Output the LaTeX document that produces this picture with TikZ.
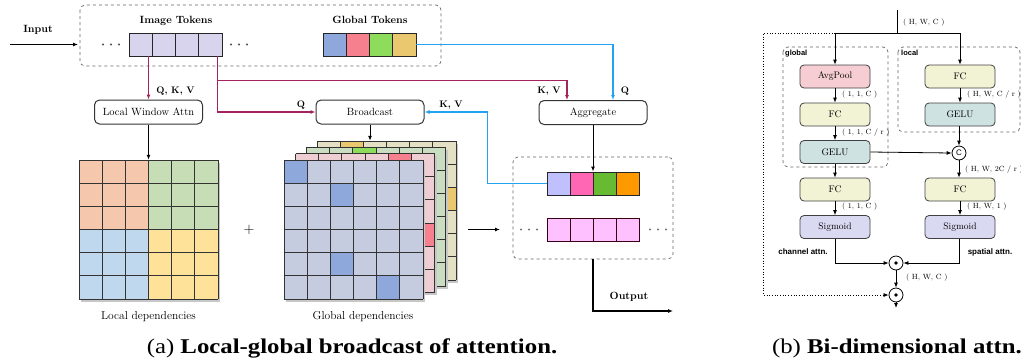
\documentclass[tikz,border=0pt]{standalone}
\usepackage{fontspec}
\newfontfamily\capfont[FakeStretch=1.18]{Liberation Serif}
\newfontfamily\labsans{Liberation Sans}
\usetikzlibrary{arrows.meta,calc}

\definecolor{mag}{HTML}{A3235F}
\definecolor{sky}{HTML}{26A2F2}
\definecolor{imgtok}{HTML}{D8D4EE}
\definecolor{gblue}{HTML}{8FA8DC}
\definecolor{gpink}{HTML}{F7808F}
\definecolor{ggreen}{HTML}{8EDC5C}
\definecolor{gyellow}{HTML}{EAC870}
\definecolor{oviolet}{HTML}{C0C0FF}
\definecolor{opink}{HTML}{FF66B3}
\definecolor{ogreen}{HTML}{66BB33}
\definecolor{oorange}{HTML}{FF9900}
\definecolor{olilac}{HTML}{FFC0FF}
\definecolor{lorange}{HTML}{F5C8AE}
\definecolor{lgreen}{HTML}{C6DDB5}
\definecolor{lblue}{HTML}{BFD8EE}
\definecolor{lyellow}{HTML}{FFE29A}
\definecolor{dfront}{HTML}{C6CCE0}
\definecolor{dpink}{HTML}{EFCED3}
\definecolor{dgreen}{HTML}{CADDC1}
\definecolor{dtan}{HTML}{E4E0C3}
\definecolor{bpink}{HTML}{F5CDD2}
\definecolor{bfc}{HTML}{F2F2D5}
\definecolor{bgelu}{HTML}{CFE2E2}
\definecolor{bsig}{HTML}{D9D9F2}

% one 6x6 dependency layer: x0, y0, base colour, highlighted row/col pairs, highlight colour
\newcommand\deplayer[5]{%
  \fill[black!22] (#1+2,#2+2.5) rectangle ++(139,139);
  \fill[#3] (#1,#2) rectangle ++(139,139);
  \foreach \r/\c in {#4} {\fill[#5] (#1+\c*23.1667,#2+\r*23.1667) rectangle ++(23.1667,23.1667);}
  \foreach \i in {0,...,6} {
    \draw[gridln] (#1+\i*23.1667,#2) -- ++(0,139);
    \draw[gridln] (#1,#2+\i*23.1667) -- ++(139,0);
  }
}

\begin{document}
\begin{tikzpicture}[x=1pt,y=-1pt,
  >={Latex[length=5pt,width=4pt]},
  gridln/.style={draw=black!80,line width=0.9pt},
  tok/.style={draw=black!85,line width=0.9pt,minimum width=23.25pt,minimum height=23pt,inner sep=0pt},
  opbox/.style={draw=black!80,line width=1pt,rounded corners=5pt,fill=white,minimum width=108pt,minimum height=24pt,inner sep=0pt,font=\fontsize{10.5}{12}\selectfont},
  bbox/.style={draw=black!75,line width=0.8pt,rounded corners=4pt,minimum width=70pt,minimum height=23pt,inner sep=0pt,font=\fontsize{9.5}{11}\selectfont},
  mg/.style={draw=mag,line width=1.2pt},
  sk/.style={draw=sky,line width=1.2pt},
  blk/.style={draw=black,line width=1pt},
  lbl/.style={font=\bfseries\fontsize{9.5}{11}\selectfont,inner sep=0pt},
  ttl/.style={font=\bfseries\fontsize{10.5}{12}\selectfont,inner sep=0pt},
  dim/.style={font=\fontsize{7.5}{9}\selectfont,inner sep=0pt,anchor=west},
  grp/.style={draw=black!60,dashed,rounded corners=5pt,line width=0.7pt},
  sans/.style={font=\labsans\bfseries\fontsize{7.5}{9}\selectfont,inner sep=0pt},
  opc/.style={circle,draw=black,line width=0.8pt,fill=white,minimum size=14pt,inner sep=0pt}
]
\useasboundingbox (0,0) rectangle (1021,360);

% ---------------- (a) token groups ----------------
\draw[grp] (80,5) rectangle (441,66);
\node[ttl] (imgtitle) at (176,21) {Image Tokens};
\node[ttl] (gtitle) at (370,20) {Global Tokens};
\foreach \k in {1,...,4} {
  \node[tok,fill=imgtok] (t\k) at (129+11.625+\k*23.25-23.25,44.5) {};
}
\node[tok,fill=gblue]   (g1) at (334.6,44.5) {};
\node[tok,fill=gpink]   (g2) at (357.9,44.5) {};
\node[tok,fill=ggreen]  (g3) at (381.1,44.5) {};
\node[tok,fill=gyellow] (g4) at (404.4,44.5) {};
\foreach \x in {103,111,119,231,239,247} \fill[black!70] (\x,44.5) circle[radius=1.1];

\coordinate (inL) at (10,44.5);
\node[ttl] (inlbl) at (38,30) {Input};
\draw[blk,->] (inL) -- (78,44.5);

% ---------------- (a) operation boxes ----------------
\node[opbox] (lwa) at (148.5,112) {Local Window Attn};
\node[opbox] (bc)  at (370,112) {Broadcast};
\node[opbox] (agg) at (593,112.5) {Aggregate};

% magenta: image tokens
\draw[mg,->] (t1.south -| lwa.north) -- (lwa.north);
\draw[mg,->] ([xshift=7.5pt]t4.south) |- (bc.west);
\draw[mg,->] ([xshift=7.5pt]t4.south) -- ++(0,24) -| ([xshift=-26pt]agg.north);
\node[lbl] at (175.5,91) {Q, K, V};
\node[lbl] at (301,105) {Q};
\node[lbl] at (549,91) {K, V};

% blue: global tokens
\draw[sk,->] (g4.east) -| ([xshift=20pt]agg.north);
\node[lbl] at (625,91) {Q};

% ---------------- (a) local grid ----------------
\node[minimum size=139pt,inner sep=0pt] (lgrid) at (148.5,229.5) {};
\fill[black!22] (81,162.5) rectangle ++(139,139);
\fill[lorange] (79,160) rectangle ++(69.5,69.5);
\fill[lgreen]  (148.5,160) rectangle ++(69.5,69.5);
\fill[lblue]   (79,229.5) rectangle ++(69.5,69.5);
\fill[lyellow] (148.5,229.5) rectangle ++(69.5,69.5);
\foreach \i in {0,...,6} {
  \draw[gridln] (79+\i*23.1667,160) -- ++(0,139);
  \draw[gridln] (79,160+\i*23.1667) -- ++(139,0);
}
\draw[blk,->] (lwa.south) -- (lgrid.north);
\node[font=\fontsize{14}{14}\selectfont] (plus) at (249,230) {$+$};
\node[font=\fontsize{11.5}{13}\selectfont] (ldep) at (148.5,317) {Local dependencies};

% ---------------- (a) global dependency stack ----------------
\deplayer{317}{141}{dtan}{0/1,2/5}{gyellow}
\deplayer{306.5}{147}{dgreen}{0/2}{ggreen}
\deplayer{295.5}{153.5}{dpink}{0/4,3/5}{gpink}
\deplayer{284}{160}{dfront}{0/0,1/2,4/2,5/4}{gblue}
\node[minimum size=139pt,inner sep=0pt] (gback) at (386.5,210.5) {};
\draw[blk,->] (bc.south) -- (bc.south |- gback.north);
\node[font=\fontsize{11.5}{13}\selectfont] (gdep) at (363,317) {Global dependencies};

% ---------------- (a) output group ----------------
\node[grp,minimum width=160pt,minimum height=102pt,inner sep=0pt] (outbox) at (593,208) {};
\node[tok,minimum width=23pt,fill=oviolet] (o1) at (558.5,183.5) {};
\node[tok,minimum width=23pt,fill=opink]   (o2) at (581.5,183.5) {};
\node[tok,minimum width=23pt,fill=ogreen]  (o3) at (604.5,183.5) {};
\node[tok,minimum width=23pt,fill=oorange] (o4) at (627.5,183.5) {};
\foreach \k/\x in {1/558.5,2/581.5,3/604.5,4/627.5}
  \node[tok,minimum width=23pt,fill=olilac,draw=black!70!purple] (p\k) at (\x,229.5) {};
\foreach \x in {521,529,537,650,658,666} \fill[black!55] (\x,229.5) circle[radius=1.1];

\draw[blk,->] (agg.south) -- (agg.south |- o1.north);
\draw[sk,->] (o1.west) -- ++(-59,0) |- (bc.east);
\node[lbl] at (451,105) {K, V};

\coordinate (sa) at (468,229.5);
\coordinate (sb) at (500,229.5);
\draw[blk,->] (sa) -- (sb);

\coordinate (outend) at (673,311);
\draw[draw=black,line width=1.2pt,->] (outbox.south) |- (outend);
\node[ttl] at (629,297) {Output};

% ---------------- (b) bi-dimensional attention ----------------
\draw[grp] (783,47) rectangle (888,167);
\draw[grp] (898,47) rectangle (1020,132);
\node[sans,anchor=north west] at (785,50) {global};
\node[sans,anchor=north west] at (901,50) {local};

\node[bbox,fill=bpink] (avg)  at (835,76.5) {AvgPool};
\node[bbox,fill=bfc]   (fcg)  at (835,114.5) {FC};
\node[bbox,fill=bgelu] (gelg) at (835,152) {GELU};
\node[bbox,fill=bfc]   (fcl)  at (960,76.5) {FC};
\node[bbox,fill=bgelu] (gell) at (960,114.5) {GELU};
\node[opc,font=\labsans\fontsize{8}{8}\selectfont] (cat) at (959,153) {C};
\node[bbox,fill=bfc]   (fcg2) at (835,189.5) {FC};
\node[bbox,fill=bfc]   (fcl2) at (960,189.5) {FC};
\node[bbox,fill=bsig]  (sigg) at (835,227) {Sigmoid};
\node[bbox,fill=bsig]  (sigl) at (960,227) {Sigmoid};
\node[opc,minimum size=14pt] (m1) at (896,263) {};
\node[opc,minimum size=14pt] (m2) at (896,295) {};
\fill (m1.center) circle[radius=1.8];
\fill (m2.center) circle[radius=1.8];

\coordinate (bin) at (897,10);
\coordinate (split) at (897,33);
\coordinate (skip) at (763,33);
\coordinate (bout) at (896,308);
\draw[blk,line width=0.8pt] (bin) -- (split);
\draw[blk,line width=0.8pt,->] (split) -| (avg.north);
\draw[blk,line width=0.8pt,->] (split) -| (fcl.north);
\draw[black,line width=0.7pt,dotted,->] (avg.north |- split) -- (skip) |- (m2.west);

\draw[blk,line width=0.8pt,->] (avg.south) -- (fcg.north);
\draw[blk,line width=0.8pt,->] (fcg.south) -- (gelg.north);
\draw[blk,line width=0.8pt,->] (fcl.south) -- (gell.north);
\draw[blk,line width=0.8pt,->] (gelg.east) -- (cat.west);
\draw[blk,line width=0.8pt,->] (gell.south -| cat.north) -- (cat.north);
\draw[blk,line width=0.8pt,->] (cat.south) -- (cat.south |- fcl2.north);
\draw[blk,line width=0.8pt,->] (gelg.south) -- (fcg2.north);
\draw[blk,line width=0.8pt,->] (fcg2.south) -- (sigg.north);
\draw[blk,line width=0.8pt,->] (fcl2.south) -- (sigl.north);
\draw[blk,line width=0.8pt,->] (sigg.south) |- (m1.west);
\draw[blk,line width=0.8pt,->] (sigl.south -| cat.south) |- (m1.east);
\draw[blk,line width=0.8pt,->] (m1.south) -- (m2.north);
\draw[blk,line width=0.8pt,->] (m2.south) -- (bout);

\node[dim] at (903,23) {( H, W, C )};
\node[dim] at (842,95) {( 1, 1, C )};
\node[dim] at (967,95) {( H, W, C / r )};
\node[dim] at (842,133) {( 1, 1, C / r )};
\node[dim] at (965,170) {( H, W, 2C / r )};
\node[dim] at (842,207) {( 1, 1, C )};
\node[dim] at (967,207) {( H, W, 1 )};
\node[dim] at (906,278) {( H, W, C )};
\node[sans,font=\labsans\bfseries\fontsize{8}{9}\selectfont] at (803,252) {channel attn.};
\node[sans,font=\labsans\bfseries\fontsize{8}{9}\selectfont] at (990,252) {spatial attn.};

% ---------------- captions ----------------
\node[anchor=base,inner sep=0pt,font=\capfont\fontsize{21}{24}\selectfont] at (352,353) {(a) \textbf{Local-global broadcast of attention.}};
\node[anchor=base,inner sep=0pt,font=\capfont\fontsize{21}{24}\selectfont] at (897,353) {(b) \textbf{Bi-dimensional attn.}};
\end{tikzpicture}
\end{document}
